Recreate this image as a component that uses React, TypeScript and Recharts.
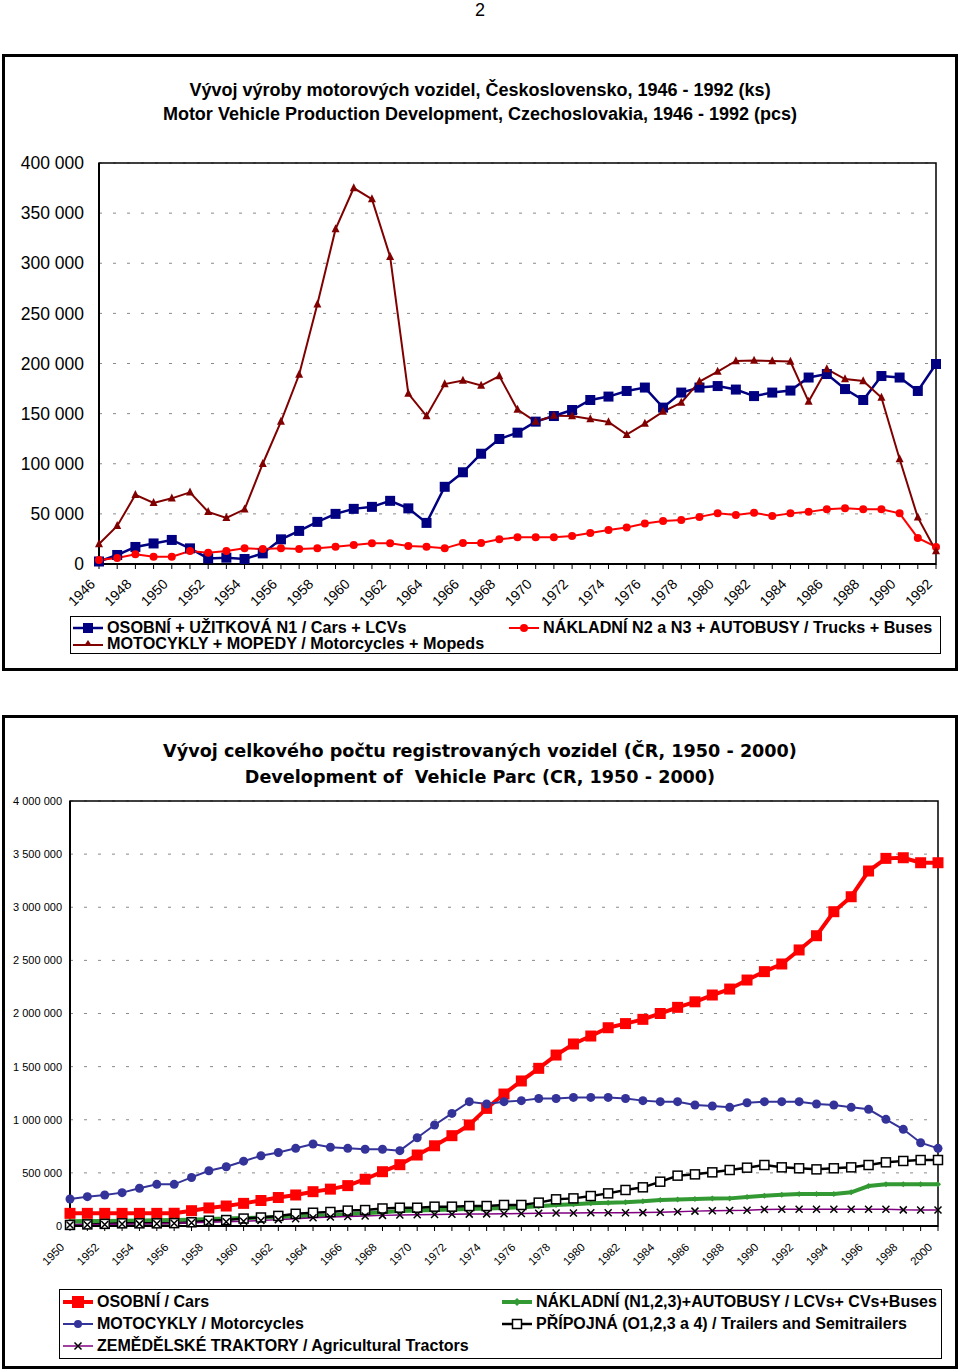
import React from 'react';
import { LineChart, Line, XAxis, YAxis, CartesianGrid, ReferenceArea } from 'recharts';

const FONT = '"Liberation Sans", Arial, sans-serif';

// --- chart 1: production 1946-1992 (pcs)
const prodYears = [
  '1946', '1947', '1948', '1949', '1950', '1951', '1952', '1953', '1954', '1955',
  '1956', '1957', '1958', '1959', '1960', '1961', '1962', '1963', '1964', '1965',
  '1966', '1967', '1968', '1969', '1970', '1971', '1972', '1973', '1974', '1975',
  '1976', '1977', '1978', '1979', '1980', '1981', '1982', '1983', '1984', '1985',
  '1986', '1987', '1988', '1989', '1990', '1991', '1992',
];
const prodCars = [
  2500, 9000, 17000, 20500, 24000, 15600, 5600, 6300, 5000, 10600,
  24600, 33000, 42000, 50000, 55000, 57000, 63000, 55500, 41000, 77000,
  91500, 110000, 124700, 131000, 142000, 147600, 153600, 163600, 167000, 172600,
  176000, 156000, 171000, 176000, 177500, 174000, 167500, 171000, 173000, 186000,
  189500, 174500, 163600, 187500, 186000, 172600, 199500,
];
const prodTrucks = [
  4000, 6000, 9700, 7300, 7300, 13000, 11300, 13000, 15600, 15000,
  15600, 15000, 15600, 17300, 19000, 20600, 20600, 18000, 17300, 15600,
  21000, 21000, 24600, 26600, 26600, 26600, 28000, 31000, 34000, 36500,
  40500, 43000, 44000, 47000, 50500, 49000, 51000, 48000, 50500, 52000,
  54500, 55500, 54500, 54500, 50500, 26000, 17000,
];
const prodMoto = [
  20000, 38000, 69000, 61000, 65500, 71500, 52000, 46000, 54500, 100000,
  142000, 189000, 259000, 334000, 375000, 364000, 306500, 170000, 147600, 179500,
  183000, 178000, 187500, 154000, 142000, 148000, 147600, 144600, 141600, 129000,
  140000, 152000, 161000, 182000, 192000, 202500, 203000, 202500, 202000, 162000,
  194500, 184500, 182500, 166000, 104700, 46500, 13000,
];
const prodTicks = [0, 50000, 100000, 150000, 200000, 250000, 300000, 350000, 400000];

// --- chart 2: vehicle parc 1950-2000
const parcYears = [
  '1950', '1951', '1952', '1953', '1954', '1955', '1956', '1957', '1958', '1959',
  '1960', '1961', '1962', '1963', '1964', '1965', '1966', '1967', '1968', '1969',
  '1970', '1971', '1972', '1973', '1974', '1975', '1976', '1977', '1978', '1979',
  '1980', '1981', '1982', '1983', '1984', '1985', '1986', '1987', '1988', '1989',
  '1990', '1991', '1992', '1993', '1994', '1995', '1996', '1997', '1998', '1999', '2000',
];
const parcCars = [
  119000, 119000, 119000, 119000, 119000, 119000, 120000, 144000, 170000, 188000,
  213000, 240000, 268000, 292000, 323000, 347000, 380000, 440000, 511000, 577000,
  668000, 755000, 850000, 951000, 1107000, 1242000, 1365000, 1484000, 1609000, 1713000,
  1788000, 1866000, 1905000, 1945000, 2000000, 2058000, 2110000, 2174000, 2230000, 2315000,
  2394000, 2466000, 2598000, 2732000, 2958000, 3099000, 3341000, 3460000, 3466000, 3419000, 3419000,
];
const parcMoto = [
  254000, 276000, 292000, 314000, 355000, 392000, 392000, 457000, 520000, 558000,
  610000, 661000, 692000, 731000, 772000, 741000, 731000, 722000, 722000, 709000,
  831000, 951000, 1060000, 1170000, 1148000, 1170000, 1180000, 1200000, 1200000, 1210000,
  1210000, 1210000, 1200000, 1180000, 1170000, 1170000, 1139000, 1129000, 1117000, 1160000,
  1170000, 1170000, 1170000, 1148000, 1139000, 1117000, 1098000, 1004000, 910000, 784000, 731000,
];
const parcTrucks = [
  45000, 46000, 48000, 50000, 52000, 54000, 56000, 60000, 65000, 70000,
  75000, 80000, 85000, 90000, 95000, 100000, 110000, 120000, 130000, 140000,
  145000, 150000, 155000, 160000, 165000, 170000, 176000, 185000, 198000, 205000,
  213000, 218000, 223000, 232000, 245000, 250000, 254000, 258000, 260000, 272000,
  285000, 295000, 301000, 301000, 301000, 317000, 376000, 392000, 392000, 392000, 392000,
];
const parcTrailers = [
  10000, 15000, 20000, 25000, 25000, 25000, 27000, 35000, 50000, 56000,
  70000, 80000, 95000, 115000, 125000, 132000, 145000, 150000, 165000, 172000,
  172000, 182000, 182000, 188000, 188000, 198000, 198000, 220000, 251000, 260000,
  282000, 307000, 339000, 364000, 417000, 474000, 486000, 505000, 527000, 549000,
  574000, 552000, 543000, 533000, 543000, 552000, 574000, 599000, 612000, 621000, 621000,
];
const parcTractors = [
  10000, 12000, 15000, 18000, 20000, 22000, 25000, 30000, 35000, 40000,
  45000, 52000, 60000, 68000, 78000, 85000, 90000, 95000, 100000, 103000,
  106000, 108000, 110000, 112000, 114000, 116000, 118000, 120000, 122000, 123000,
  124000, 125000, 125000, 126000, 130000, 135000, 140000, 143000, 146000, 148000,
  155000, 158000, 158000, 158000, 158000, 158000, 158000, 158000, 152000, 150000, 150000,
];
const parcTicks = [0, 500000, 1000000, 1500000, 2000000, 2500000, 3000000, 3500000, 4000000];

const prodData = prodYears.map((year, i) => ({
  year, cars: prodCars[i], trucks: prodTrucks[i], moto: prodMoto[i],
}));
const parcData = parcYears.map((year, i) => ({
  year,
  cars: parcCars[i],
  trucks: parcTrucks[i],
  moto: parcMoto[i],
  trailers: parcTrailers[i],
  tractors: parcTractors[i],
}));

const fmt = (v: number) => String(v).replace(/\B(?=(\d{3})+(?!\d))/g, ' ');

// markers
const square = (s: number, fill: string, stroke = fill, sw = 0) => (p: any) => (
  <rect key={`sq${p.index}`} x={p.cx - s / 2} y={p.cy - s / 2} width={s} height={s} fill={fill} stroke={stroke} strokeWidth={sw} />
);
const circle = (r: number, fill: string) => (p: any) => (
  <circle key={`c${p.index}`} cx={p.cx} cy={p.cy} r={r} fill={fill} />
);
const triangle = (s: number, fill: string) => (p: any) => (
  <polygon key={`t${p.index}`} points={`${p.cx},${p.cy - s * 0.6} ${p.cx - s / 2},${p.cy + s * 0.4} ${p.cx + s / 2},${p.cy + s * 0.4}`} fill={fill} />
);
const diamond = (s: number, fill: string) => (p: any) => (
  <polygon key={`d${p.index}`} points={`${p.cx},${p.cy - s / 2} ${p.cx + s / 2},${p.cy} ${p.cx},${p.cy + s / 2} ${p.cx - s / 2},${p.cy}`} fill={fill} />
);
const cross = (s: number, color: string) => (p: any) => (
  <path key={`x${p.index}`} d={`M${p.cx - s / 2},${p.cy - s / 2}L${p.cx + s / 2},${p.cy + s / 2}M${p.cx - s / 2},${p.cy + s / 2}L${p.cx + s / 2},${p.cy - s / 2}`} stroke={color} strokeWidth={1.5} />
);

const YearTick = ({ x, y, payload, index, size, dx, dy }: any) =>
  index % 2 === 0 ? (
    <text x={x + dx} y={y + dy} transform={`rotate(-45 ${x + dx} ${y + dy})`} textAnchor="end"
      fontSize={size} fontFamily={FONT} fill="#000">{payload.value}</text>
  ) : <g />;

const LegendItem = ({ left, top, label, icon }: any) => (
  <div style={{ position: 'absolute', left, top, display: 'flex', alignItems: 'center', whiteSpace: 'nowrap' }}>
    <svg width={32} height={14} style={{ marginRight: 3 }}>{icon}</svg>
    <span>{label}</span>
  </div>
);

const frame: React.CSSProperties = { position: 'absolute', border: '3px solid #000', boxSizing: 'border-box' };
const title: React.CSSProperties = { position: 'absolute', left: 0, width: 960, textAlign: 'center', fontWeight: 'bold', whiteSpace: 'nowrap' };
const VERDANA = '"DejaVu Sans", Verdana, sans-serif';

export default function App() {
  return (
    <div style={{ position: 'absolute', left: 0, top: 0, width: 960, height: 1371, fontFamily: FONT, background: '#fff' }}>
      <div style={{ position: 'absolute', left: 0, width: 960, top: 0, textAlign: 'center', fontSize: 18 }}>2</div>

      {/* production chart */}
      <div style={{ ...frame, left: 2, top: 54, width: 956, height: 617 }} />
      <div style={{ ...title, top: 80, fontSize: 18 }}>Vývoj výroby motorových vozidel, Československo, 1946 - 1992 (ks)</div>
      <div style={{ ...title, top: 104, fontSize: 18 }}>Motor Vehicle Production Development, Czechoslovakia, 1946 - 1992 (pcs)</div>
      <div style={{ position: 'absolute', left: 0, top: 150 }}>
        <LineChart width={960} height={470} data={prodData} margin={{ top: 13, right: 24, left: 0, bottom: 6 }}>
          <CartesianGrid vertical={false} stroke="#8a8a8a" strokeDasharray="3 11" />
          <XAxis dataKey="year" interval={0} height={50} tickSize={5}
            axisLine={{ stroke: '#000', strokeWidth: 2 }} tickLine={{ stroke: '#000' }}
            tick={(p: any) => <YearTick {...p} size={14} dx={-3} dy={14} />} />
          <YAxis domain={[0, 400000]} ticks={prodTicks} width={99} tickSize={0} tickMargin={15}
            axisLine={{ stroke: '#000', strokeWidth: 2 }} tickLine={false} tickFormatter={fmt}
            tick={{ fill: '#000', fontSize: 17.5, fontFamily: FONT }} />
          <ReferenceArea x1="1946" x2="1992" y1={0} y2={400000} fill="none" stroke="#000" strokeWidth={1.5} ifOverflow="visible" />
          <Line dataKey="cars" stroke="#000080" strokeWidth={2.5} dot={square(10, '#000080')} isAnimationActive={false} />
          <Line dataKey="trucks" stroke="#ff0000" strokeWidth={2} dot={circle(4, '#ff0000')} isAnimationActive={false} />
          <Line dataKey="moto" stroke="#800000" strokeWidth={2} dot={triangle(8, '#800000')} isAnimationActive={false} />
        </LineChart>
      </div>
      <div style={{ position: 'absolute', left: 70, top: 616, width: 871, height: 38, border: '1.5px solid #000', boxSizing: 'border-box', fontSize: 16.2, fontWeight: 'bold' }}>
        <LegendItem left={1} top={1} label="OSOBNÍ + UŽITKOVÁ N1 / Cars + LCVs" icon={<g><line x1={1} y1={7} x2={31} y2={7} stroke="#000080" strokeWidth={2.5} /><rect x={11} y={2} width={10} height={10} fill="#000080" /></g>} />
        <LegendItem left={437} top={1} label="NÁKLADNÍ N2 a N3 + AUTOBUSY / Trucks + Buses" icon={<g><line x1={1} y1={7} x2={31} y2={7} stroke="#ff0000" strokeWidth={2} /><circle cx={16} cy={7} r={4} fill="#ff0000" /></g>} />
        <LegendItem left={1} top={17} label="MOTOCYKLY + MOPEDY / Motorcycles + Mopeds" icon={<g><line x1={1} y1={8} x2={31} y2={8} stroke="#800000" strokeWidth={2} /><polygon points="16,3 12,9 20,9" fill="#800000" /></g>} />
      </div>

      {/* vehicle parc chart */}
      <div style={{ ...frame, left: 2, top: 715, width: 956, height: 654 }} />
      <div style={{ ...title, top: 741, fontSize: 17.6, fontFamily: VERDANA }}>Vývoj celkového počtu registrovaných vozidel (ČR, 1950 - 2000)</div>
      <div style={{ ...title, top: 767, fontSize: 17.6, fontFamily: VERDANA }}>Development of&nbsp; Vehicle Parc (CR, 1950 - 2000)</div>
      <div style={{ position: 'absolute', left: 0, top: 790 }}>
        <LineChart width={960} height={500} data={parcData} margin={{ top: 11, right: 22, left: 0, bottom: 4 }}>
          <CartesianGrid vertical={false} stroke="#8a8a8a" strokeDasharray="3 11" />
          <XAxis dataKey="year" interval={0} height={60} tickSize={5}
            axisLine={{ stroke: '#000', strokeWidth: 2 }} tickLine={{ stroke: '#000' }}
            tick={(p: any) => <YearTick {...p} size={11.5} dx={-5} dy={15} />} />
          <YAxis domain={[0, 4000000]} ticks={parcTicks} width={70} tickSize={0} tickMargin={8}
            axisLine={{ stroke: '#000', strokeWidth: 2 }} tickLine={false} tickFormatter={fmt}
            tick={{ fill: '#000', fontSize: 11, fontFamily: FONT }} />
          <ReferenceArea x1="1950" x2="2000" y1={0} y2={4000000} fill="none" stroke="#000" strokeWidth={1.5} ifOverflow="visible" />
          <Line dataKey="cars" stroke="#ff0000" strokeWidth={4} dot={square(11, '#ff0000')} isAnimationActive={false} />
          <Line dataKey="trucks" stroke="#339933" strokeWidth={4} dot={diamond(6, '#339933')} isAnimationActive={false} />
          <Line dataKey="moto" stroke="#333399" strokeWidth={2} dot={circle(4.5, '#333399')} isAnimationActive={false} />
          <Line dataKey="trailers" stroke="#000" strokeWidth={2.5} dot={square(9, '#fff', '#000', 1.5)} isAnimationActive={false} />
          <Line dataKey="tractors" stroke="#800080" strokeWidth={1.5} dot={cross(7, '#000')} isAnimationActive={false} />
        </LineChart>
      </div>
      <div style={{ position: 'absolute', left: 59, top: 1289, width: 883, height: 70, border: '1.5px solid #000', boxSizing: 'border-box', fontSize: 16, fontWeight: 'bold' }}>
        <LegendItem left={2} top={3} label="OSOBNÍ / Cars" icon={<g><line x1={1} y1={7} x2={31} y2={7} stroke="#ff0000" strokeWidth={4} /><rect x={10} y={1} width={12} height={12} fill="#ff0000" /></g>} />
        <LegendItem left={441} top={3} label="NÁKLADNÍ (N1,2,3)+AUTOBUSY / LCVs+ CVs+Buses" icon={<g><line x1={1} y1={7} x2={31} y2={7} stroke="#339933" strokeWidth={4} /><polygon points="16,3 20,7 16,11 12,7" fill="#339933" /></g>} />
        <LegendItem left={2} top={25} label="MOTOCYKLY / Motorcycles" icon={<g><line x1={1} y1={7} x2={31} y2={7} stroke="#333399" strokeWidth={2} /><circle cx={16} cy={7} r={4} fill="#333399" /></g>} />
        <LegendItem left={441} top={25} label="PŘÍPOJNÁ (O1,2,3 a 4) / Trailers and Semitrailers" icon={<g><line x1={1} y1={7} x2={31} y2={7} stroke="#000" strokeWidth={2.5} /><rect x={11.5} y={2.5} width={9} height={9} fill="#fff" stroke="#000" strokeWidth={1.5} /></g>} />
        <LegendItem left={2} top={47} label="ZEMĚDĚLSKÉ TRAKTORY / Agricultural Tractors" icon={<g><line x1={1} y1={7} x2={31} y2={7} stroke="#800080" strokeWidth={1.5} /><path d="M12.5,3.5L19.5,10.5M12.5,10.5L19.5,3.5" stroke="#000" strokeWidth={1.5} /></g>} />
      </div>
    </div>
  );
}
